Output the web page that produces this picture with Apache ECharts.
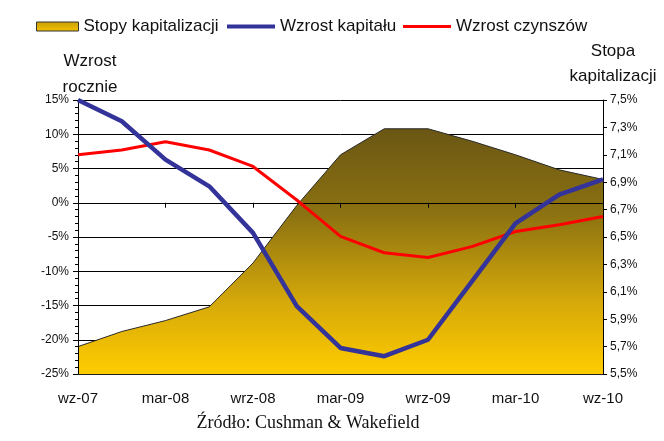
<!DOCTYPE html>
<html>
<head>
<meta charset="utf-8">
<script src="https://cdn.jsdelivr.net/npm/echarts@6/dist/echarts.min.js"></script>
<style>
html,body{margin:0;padding:0;background:#fff;}
#chart{width:664px;height:441px;}
</style>
</head>
<body>
<div id="chart"></div>
<script>
// Quarterly categories (only every second one is labelled)
var categories = ['wz-07','gru-07','mar-08','cze-08','wrz-08','gru-08','mar-09','cze-09','wrz-09','gru-09','mar-10','cze-10','wz-10'];
// Wzrost kapitału (% r/r), left axis
var capitalGrowth = [15, 11.9, 6.3, 2.4, -4.4, -15.1, -21.2, -22.4, -20.0, -11.5, -3.0, 1.2, 3.4];
// Wzrost czynszów (% r/r), left axis
var rentGrowth = [7.0, 7.7, 8.9, 7.7, 5.3, 0.4, -4.9, -7.3, -8.0, -6.4, -4.2, -3.2, -2.0];
// Stopy kapitalizacji (%), right axis
var capRate = [5.70, 5.81, 5.89, 5.99, 6.31, 6.73, 7.10, 7.29, 7.29, 7.20, 7.10, 6.99, 6.92];
// Axis ranges
var leftMin = -25, leftMax = 15, leftStep = 5;
var rightMin = 5.5, rightMax = 7.5, rightStep = 0.2;

var FONT = 'Liberation Sans, Arial, sans-serif';
var chart = echarts.init(document.getElementById('chart'), null, {renderer: 'canvas'});

// right axis is expressed as offset from its minimum so ticks start exactly at 5,5%
var capRateOffset = capRate.map(function (v) { return +(v - rightMin).toFixed(4); });

var areaGradient = new echarts.graphic.LinearGradient(0, 0, 0, 1, [
  {offset: 0, color: '#6a5614'},
  {offset: 0.35, color: '#8c7211'},
  {offset: 0.7, color: '#d4a80a'},
  {offset: 1, color: '#ffcc00'}
]);
var swatchGradient = new echarts.graphic.LinearGradient(0, 0, 0, 1, [
  {offset: 0, color: '#c99f08'},
  {offset: 1, color: '#f2c200'}
]);

var legendText = {fontFamily: FONT, fontSize: 17, color: '#111'};

var option = {
  backgroundColor: '#fff',
  animation: false,
  title: [
    {text: 'Wzrost\nrocznie', left: 90, top: 48, padding: 0, textAlign: 'center',
     textStyle: {fontFamily: FONT, fontSize: 17, fontWeight: 'normal', lineHeight: 26, color: '#111'}},
    {text: 'Stopa\nkapitalizacji', left: 613, top: 39, padding: 0, textAlign: 'center',
     textStyle: {fontFamily: FONT, fontSize: 17, fontWeight: 'normal', lineHeight: 25, color: '#111'}},
    {text: 'Źródło: Cushman & Wakefield', left: 308, top: 414, padding: 0, textAlign: 'center',
     textStyle: {fontFamily: 'Liberation Serif, Times New Roman, serif', fontSize: 18, fontWeight: 'normal', lineHeight: 18, color: '#111'}}
  ],
  legend: [
    {left: 36, top: 18, padding: 0, itemWidth: 42, itemHeight: 9, selectedMode: false, textStyle: legendText,
     data: [{name: 'Stopy kapitalizacji', icon: 'rect', itemStyle: {color: swatchGradient, borderColor: '#333', borderWidth: 1}}]},
    {left: 227, top: 18, padding: 0, itemWidth: 48, itemHeight: 4, selectedMode: false, textStyle: legendText,
     data: [{name: 'Wzrost kapitału', icon: 'rect', itemStyle: {color: '#333399'}}]},
    {left: 403, top: 18, padding: 0, itemWidth: 48, itemHeight: 3, selectedMode: false, textStyle: legendText,
     data: [{name: 'Wzrost czynszów', icon: 'rect', itemStyle: {color: '#ff0000'}}]}
  ],
  grid: {left: 78, right: 61, top: 100, bottom: 67, containLabel: false},
  xAxis: [
    { // axis line at 0% with ticks
      type: 'category', data: categories, boundaryGap: false, position: 'bottom', z: 4,
      axisLine: {show: true, onZero: true, onZeroAxisIndex: 0, lineStyle: {color: '#000', width: 1}},
      axisTick: {show: true, interval: 1, length: 5, lineStyle: {color: '#000'}},
      axisLabel: {show: false},
      splitLine: {show: false}
    },
    { // bottom line with labels
      type: 'category', data: categories, boundaryGap: false, position: 'bottom', z: 4,
      axisLine: {show: true, onZero: false, lineStyle: {color: '#222', width: 1}},
      axisTick: {show: false},
      axisLabel: {show: true, interval: 1, margin: 17, fontFamily: FONT, fontSize: 15, color: '#111'},
      splitLine: {show: false}
    }
  ],
  yAxis: [
    { // left value axis
      type: 'value', position: 'left', min: leftMin, max: leftMax, interval: leftStep, z: 4,
      axisLine: {show: true, lineStyle: {color: '#000', width: 1}},
      axisTick: {show: true, length: 5, lineStyle: {color: '#000'}},
      minorTick: {show: true, splitNumber: 5, length: 3, lineStyle: {color: '#000'}},
      axisLabel: {formatter: '{value}%', margin: 9, fontFamily: FONT, fontSize: 12, color: '#111'},
      splitLine: {show: false}
    },
    { // right axis (Stopa kapitalizacji)
      type: 'value', position: 'right', min: 0, max: +(rightMax - rightMin).toFixed(4), interval: rightStep, z: 4,
      axisLine: {show: true, lineStyle: {color: '#000', width: 1}},
      axisTick: {show: true, length: 4, lineStyle: {color: '#000'}},
      axisLabel: {
        margin: 7, fontFamily: FONT, fontSize: 12, color: '#111',
        formatter: function (v) { return (v + rightMin).toFixed(1).replace('.', ',') + '%'; }
      },
      splitLine: {show: false}
    },
    { // gridlines only (below the area)
      type: 'value', position: 'left', min: leftMin, max: leftMax, interval: leftStep, z: 0,
      axisLine: {show: false}, axisTick: {show: false}, axisLabel: {show: false},
      splitLine: {show: true, lineStyle: {color: '#000', width: 1}}
    }
  ],
  series: [
    {
      name: 'Stopy kapitalizacji', type: 'line', xAxisIndex: 0, yAxisIndex: 1, data: capRateOffset,
      showSymbol: false, symbol: 'none', z: 2,
      lineStyle: {color: '#2a2a2a', width: 1},
      itemStyle: {color: '#e0b000'},
      areaStyle: {color: areaGradient, opacity: 1, origin: 'start'}
    },
    {
      name: 'Wzrost kapitału', type: 'line', xAxisIndex: 0, yAxisIndex: 0, data: capitalGrowth,
      showSymbol: false, symbol: 'none', z: 6,
      lineStyle: {color: '#333399', width: 4.5},
      itemStyle: {color: '#333399'}
    },
    {
      name: 'Wzrost czynszów', type: 'line', xAxisIndex: 0, yAxisIndex: 0, data: rentGrowth,
      showSymbol: false, symbol: 'none', z: 5,
      lineStyle: {color: '#ff0000', width: 3},
      itemStyle: {color: '#ff0000'}
    }
  ]
};
chart.setOption(option);
</script>
</body>
</html>
